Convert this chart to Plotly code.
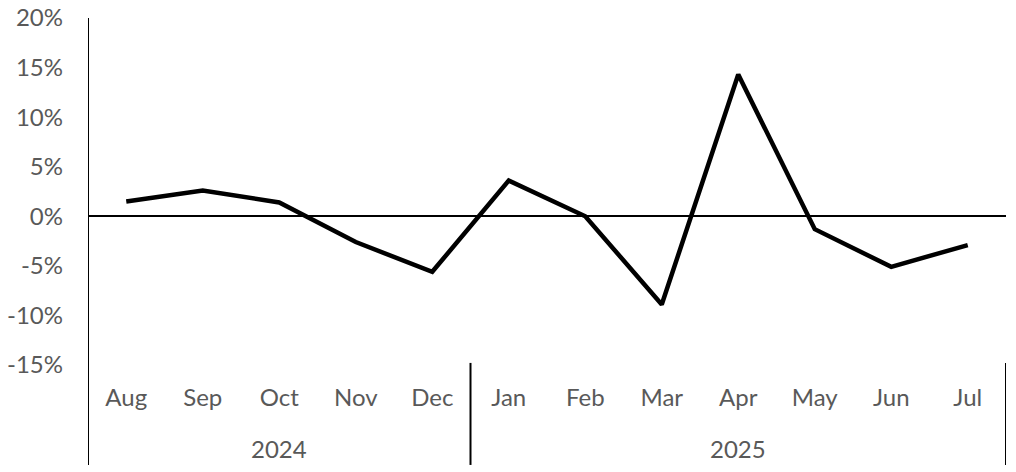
import plotly.graph_objects as go

years = ["2024"] * 5 + ["2025"] * 7
months = ["Aug", "Sep", "Oct", "Nov", "Dec", "Jan", "Feb", "Mar", "Apr", "May", "Jun", "Jul"]
change_pct = [1.5, 2.6, 1.4, -2.6, -5.6, 3.6, 0.0, -8.9, 14.3, -1.3, -5.1, -2.9]

y_ticks = [-15, -10, -5, 0, 5, 10, 15, 20]
y_tick_labels = [f"{v}%" for v in y_ticks]

x_pos = list(range(len(months)))

fig = go.Figure()

fig.add_trace(go.Scatter(
    x=x_pos,
    y=change_pct,
    mode="lines",
    line=dict(color="black", width=4.5),
    showlegend=False,
))

# year groups: label in the middle, divider at the right edge of each group
bottom = -0.288
group_names = sorted(set(years))
for name in group_names:
    idx = [i for i, yr in enumerate(years) if yr == name]
    fig.add_annotation(
        x=(idx[0] + idx[-1]) / 2, y=-0.24,
        xref="x", yref="paper",
        text=name, showarrow=False, yanchor="middle",
        font=dict(family="Lato", size=24, color="#595959"),
    )
    fig.add_shape(
        type="line", xref="x", yref="paper",
        x0=idx[-1] + 0.5, x1=idx[-1] + 0.5, y0=bottom, y1=0.006,
        line=dict(color="black", width=2),
    )

# left axis line running down through the label area
fig.add_shape(
    type="line", xref="x", yref="paper",
    x0=-0.5, x1=-0.5, y0=bottom, y1=1,
    line=dict(color="black", width=2),
)

fig.update_layout(
    width=1016,
    height=472,
    margin=dict(l=88, r=10, t=18, b=107),
    paper_bgcolor="white",
    plot_bgcolor="white",
    font=dict(family="Lato", size=24, color="#595959"),
    xaxis=dict(
        range=[-0.5, 11.5],
        tickvals=x_pos,
        ticktext=months,
        showline=False,
        showgrid=False,
        zeroline=False,
        ticks="",
        ticklabelstandoff=16,
        automargin=False,
    ),
    yaxis=dict(
        range=[-15, 20],
        tickvals=y_ticks,
        ticktext=y_tick_labels,
        showgrid=False,
        zeroline=True,
        zerolinecolor="black",
        zerolinewidth=2,
        showline=False,
        ticks="",
        ticklabelstandoff=24,
        ticklabeloverflow="allow",
        automargin=False,
    ),
)

# drop the page's default 8px body margin so the figure sits at the corner
fig.write_html(
    "out.html",
    config={"displayModeBar": False},
    post_script="document.body.style.margin='0';",
)
